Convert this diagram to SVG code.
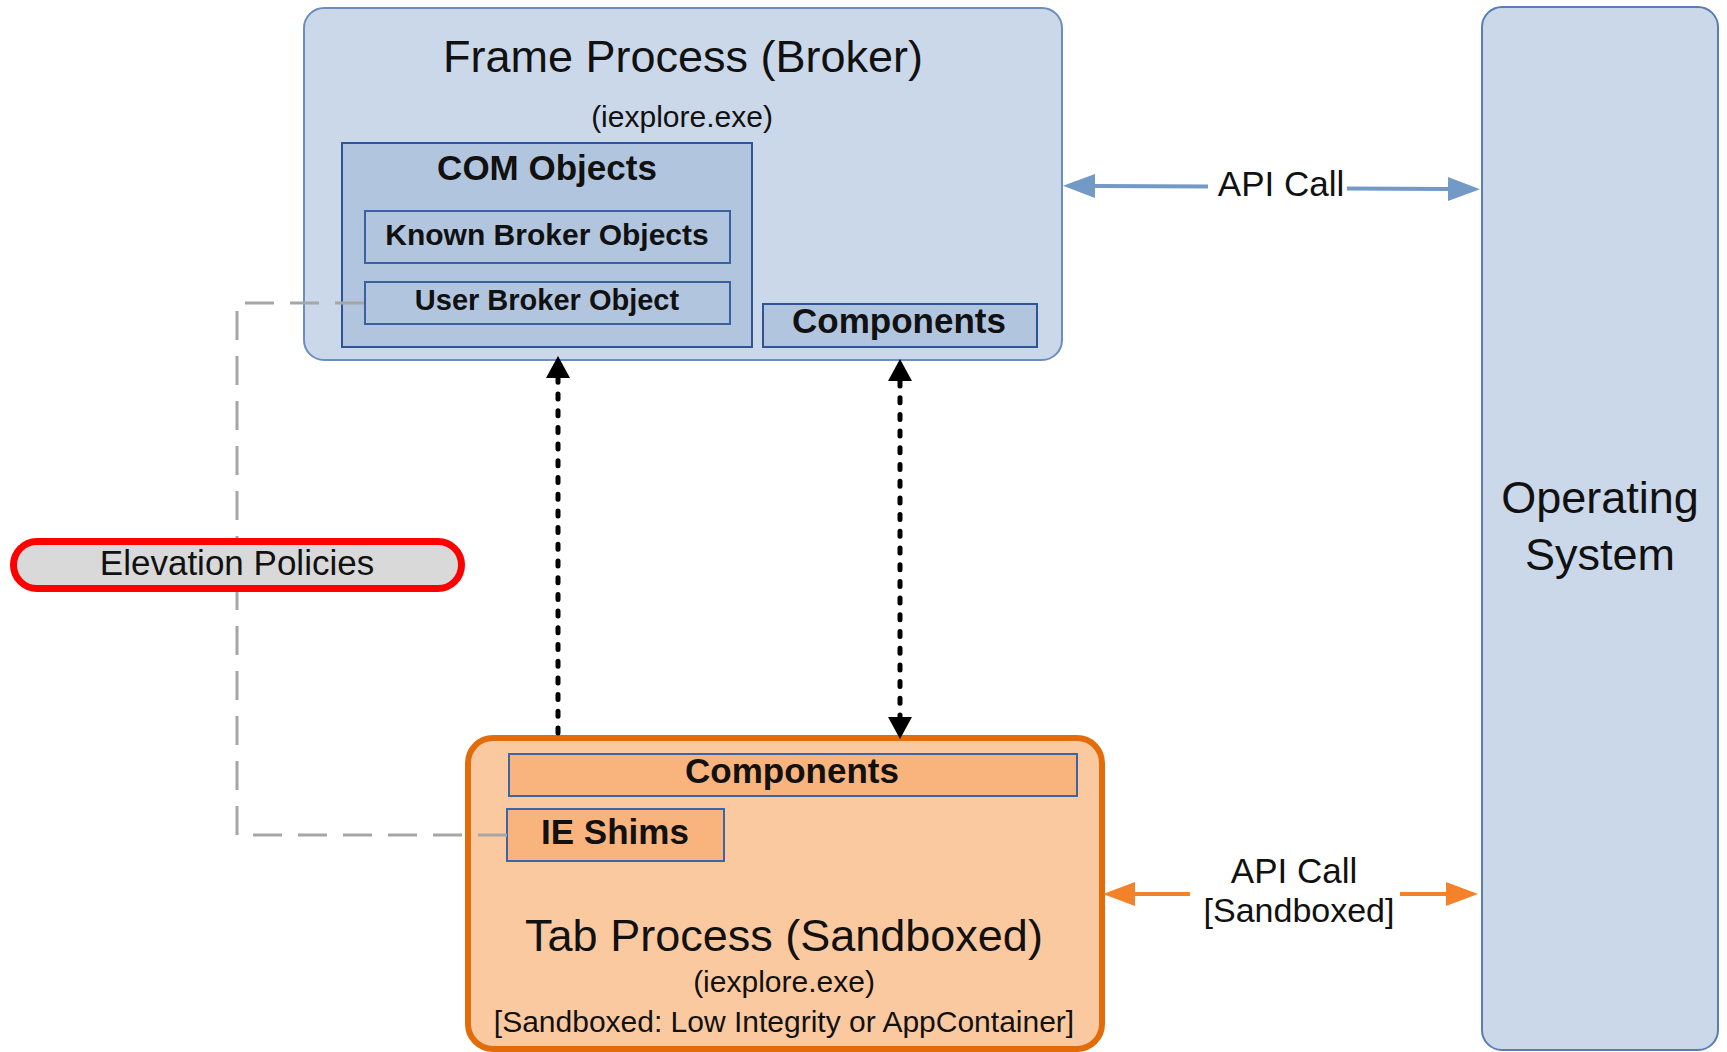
<svg xmlns="http://www.w3.org/2000/svg" width="1727" height="1052" viewBox="0 0 1727 1052">
<style>
text{font-family:"Liberation Sans",Arial,sans-serif;fill:#111;text-anchor:middle}
.t45{font-size:45px}
.t30{font-size:30px}
.t35{font-size:35px}
.b{font-weight:bold}
.blue{fill:#cad8e9;stroke:#6c8dbf;stroke-width:2}
.inner{fill:#b1c5df;stroke:#2f5597;stroke-width:2}
.orange{fill:#fbc9a0;stroke:#e36c0a;stroke-width:6}
.oinner{fill:#f9b47d;stroke:#3d64a5;stroke-width:2}
.dash{fill:none;stroke:#a6a6a6;stroke-width:3;stroke-dasharray:29 16}
.dot{fill:none;stroke:#000;stroke-width:5;stroke-dasharray:5 11.7;stroke-linecap:round}
.api{fill:none;stroke:#7399c6;stroke-width:4}
.apio{fill:none;stroke:#f4822a;stroke-width:4}
</style>
<defs>
<marker id="ab" markerUnits="userSpaceOnUse" markerWidth="32" markerHeight="24" viewBox="0 0 32 24" refX="0" refY="12" orient="auto-start-reverse"><path d="M0,0 L32,12 L0,24 z" fill="#7399c6"/></marker>
<marker id="ao" markerUnits="userSpaceOnUse" markerWidth="32" markerHeight="24" viewBox="0 0 32 24" refX="0" refY="12" orient="auto-start-reverse"><path d="M0,0 L32,12 L0,24 z" fill="#f4822a"/></marker>
<marker id="ak" markerUnits="userSpaceOnUse" markerWidth="22" markerHeight="24" viewBox="0 0 22 24" refX="0" refY="12" orient="auto-start-reverse"><path d="M0,0 L22,12 L0,24 z" fill="#000"/></marker>
</defs>

<g id="frame-process">
<rect class="blue" x="304" y="8" width="758" height="352" rx="20"/>
<text class="t45" x="683" y="72">Frame Process (Broker)</text>
<text class="t30" x="682" y="127">(iexplore.exe)</text>
</g>
<g id="com-objects">
<rect class="inner" x="342" y="143" width="410" height="204"/>
<text class="t35 b" x="547" y="180">COM Objects</text>
</g>
<g id="known-broker-objects">
<rect class="inner" x="365" y="211" width="365" height="52" style="stroke:#3a62a0"/>
<text class="t30 b" x="547" y="245">Known Broker Objects</text>
</g>
<g id="user-broker-object">
<rect class="inner" x="365" y="282" width="365" height="42" style="stroke:#3a62a0"/>
<text class="b" x="547" y="310" style="font-size:29px">User Broker Object</text>
</g>
<g id="frame-components">
<rect class="inner" x="763" y="304" width="274" height="43"/>
<text class="t35 b" x="899" y="333">Components</text>
</g>

<g id="operating-system">
<rect class="blue" x="1482" y="7" width="236" height="1043" rx="20" style="stroke:#5a7db3"/>
<text class="t45" x="1600" y="513">Operating</text>
<text class="t45" x="1600" y="570">System</text>
</g>

<g id="tab-process">
<rect class="orange" x="468" y="738" width="634" height="311" rx="25"/>
<text class="t45" x="784" y="951">Tab Process (Sandboxed)</text>
<text class="t30" x="784" y="992">(iexplore.exe)</text>
<text class="t30" x="784" y="1032">[Sandboxed: Low Integrity or AppContainer]</text>
</g>
<g id="tab-components">
<rect class="oinner" x="509" y="754" width="568" height="42"/>
<text class="t35 b" x="792" y="783">Components</text>
</g>
<g id="ie-shims">
<rect class="oinner" x="507" y="809" width="217" height="52"/>
<text class="t35 b" x="615" y="844">IE Shims</text>
</g>

<g id="connectors">
<path class="dash" d="M507,835 H237 V303 H365"/>
<path class="dot" d="M558,733 V378" marker-end="url(#ak)"/>
<path class="dot" d="M900,381 V717" marker-start="url(#ak)" marker-end="url(#ak)"/>
<path class="api" d="M1095,186 L1208,186.5" marker-start="url(#ab)"/>
<path class="api" d="M1347,188.5 L1448,189" marker-end="url(#ab)"/>
<text class="t35" x="1281" y="196">API Call</text>
<path class="apio" d="M1135,894 H1190" marker-start="url(#ao)"/>
<path class="apio" d="M1400,894 H1446" marker-end="url(#ao)"/>
<text class="t35" x="1294" y="883">API Call</text>
<text x="1299" y="922" style="font-size:34px">[Sandboxed]</text>
</g>

<g id="elevation-policies">
<rect x="13.5" y="541.5" width="448" height="47" rx="23.5" fill="#d9d9d9" stroke="#ff0000" stroke-width="7"/>
<text class="t35" x="237" y="575">Elevation Policies</text>
</g>
</svg>
